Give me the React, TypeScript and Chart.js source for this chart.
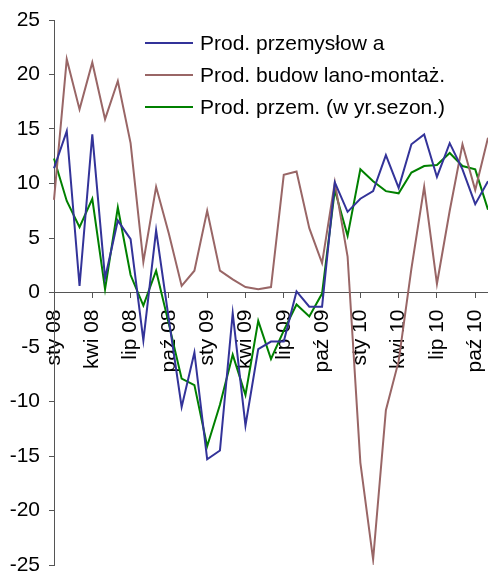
import React, { useEffect, useRef } from 'react';
import { Chart, registerables } from 'chart.js';

Chart.register(...registerables);

const months: string[] = [
  'sty 08', 'lut 08', 'mar 08', 'kwi 08', 'maj 08', 'cze 08', 'lip 08', 'sie 08', 'wrz 08', 'paź 08', 'lis 08', 'gru 08',
  'sty 09', 'lut 09', 'mar 09', 'kwi 09', 'maj 09', 'cze 09', 'lip 09', 'sie 09', 'wrz 09', 'paź 09', 'lis 09', 'gru 09',
  'sty 10', 'lut 10', 'mar 10', 'kwi 10', 'maj 10', 'cze 10', 'lip 10', 'sie 10', 'wrz 10', 'paź 10', 'lis 10',
];

const prodPrzemyslowa: number[] = [
  11.4, 14.8, 0.6, 14.5, 1.3, 6.6, 4.9, -4.4, 5.7, -2.5, -10.5, -5.5,
  -15.3, -14.5, -1.9, -12.2, -5.2, -4.5, -4.5, 0.1, -1.3, -1.3, 10.1, 7.4,
  8.6, 9.3, 12.6, 9.6, 13.6, 14.5, 10.6, 13.7, 11.3, 8.1, 10.2,
];

const prodBudowlana: number[] = [
  8.5, 21.4, 16.8, 21.1, 15.9, 19.4, 13.7, 2.8, 9.7, 5.4, 0.6, 2.0,
  7.5, 2.0, 1.2, 0.5, 0.3, 0.5, 10.8, 11.1, 5.9, 2.7, 10.1, 3.3,
  -15.6, -24.5, -10.8, -6.3, 2.2, 9.7, 0.8, 7.5, 13.6, 9.4, 14.2,
];

const prodPrzemSezon: number[] = [
  12.3, 8.4, 6.0, 8.6, 0.3, 7.8, 1.6, -1.2, 2.0, -2.9, -7.9, -8.5,
  -14.1, -10.3, -5.7, -9.4, -2.6, -6.1, -3.5, -1.1, -2.2, -0.1, 9.4, 5.2,
  11.3, 10.2, 9.3, 9.1, 11.0, 11.6, 11.7, 12.8, 11.6, 11.3, 7.6,
];

const seriesNames: string[] = [
  'Prod. przemysłow a',
  'Prod. budow lano-montaż.',
  'Prod. przem. (w yr.sezon.)',
];

const seriesColors: string[] = ['#333399', '#996666', '#008000'];

const yMin = -25;
const yMax = 25;
const yStep = 5;

const FONT_FAMILY = '"Liberation Sans", Arial, sans-serif';
const AXIS_COLOR = '#555555';

const insideLegend = {
  id: 'insideLegend',
  afterDraw(chart: any) {
    const ctx = chart.ctx;
    ctx.save();
    ctx.font = `21px ${FONT_FAMILY}`;
    ctx.textBaseline = 'alphabetic';
    ctx.textAlign = 'left';
    chart.data.datasets.forEach((ds: any, i: number) => {
      const y = 43 + i * 32;
      ctx.strokeStyle = ds.borderColor;
      ctx.lineWidth = 2;
      ctx.beginPath();
      ctx.moveTo(145, y);
      ctx.lineTo(193, y);
      ctx.stroke();
      ctx.fillStyle = '#000000';
      ctx.fillText(ds.label, 200, y + 7);
    });
    ctx.restore();
  },
};

export default function App() {
  const canvasRef = useRef<HTMLCanvasElement | null>(null);

  useEffect(() => {
    document.body.style.margin = '0';
    const canvas = canvasRef.current;
    if (!canvas) return;
    const seriesData = [prodPrzemyslowa, prodBudowlana, prodPrzemSezon];
    const chart = new Chart(canvas, {
      type: 'line',
      data: {
        labels: months,
        datasets: seriesData.map((d, i) => ({
          label: seriesNames[i],
          data: d,
          borderColor: seriesColors[i],
          backgroundColor: seriesColors[i],
          borderWidth: 2,
          pointRadius: 0,
          tension: 0,
          fill: false,
        })),
      },
      options: {
        animation: false,
        responsive: false,
        maintainAspectRatio: false,
        layout: { padding: { top: 20, bottom: 8, left: 0, right: 0 } },
        plugins: {
          legend: { display: false },
          tooltip: { enabled: false },
        },
        scales: {
          x: {
            type: 'category',
            position: { y: 0 } as any,
            offset: false,
            grid: {
              drawOnChartArea: false,
              tickLength: 5,
              tickColor: (c: any) => (c.index % 3 === 0 ? AXIS_COLOR : 'rgba(0,0,0,0)'),
            },
            border: { color: AXIS_COLOR, width: 1 },
            ticks: {
              autoSkip: false,
              minRotation: 90,
              maxRotation: 90,
              padding: 12,
              color: '#000000',
              font: { family: FONT_FAMILY, size: 21 },
              callback: (_v: any, i: number) => (i % 3 === 0 ? months[i] : ''),
            },
            afterFit: (s: any) => {
              s.paddingLeft = 0;
              s.paddingRight = 0;
            },
          },
          y: {
            min: yMin,
            max: yMax,
            grid: { drawOnChartArea: false, tickLength: 5, tickColor: AXIS_COLOR },
            border: { color: AXIS_COLOR, width: 1 },
            ticks: {
              stepSize: yStep,
              padding: 9,
              color: '#000000',
              font: { family: FONT_FAMILY, size: 21 },
            },
            afterFit: (s: any) => {
              s.width = 54;
              s.paddingTop = 0;
              s.paddingBottom = 0;
            },
          },
        },
      },
      plugins: [insideLegend],
    });
    return () => chart.destroy();
  }, []);

  return (
    <div style={{ position: 'absolute', left: 0, top: 0, width: 488, height: 573 }}>
      <canvas ref={canvasRef} width={488} height={573} style={{ width: 488, height: 573 }} />
    </div>
  );
}
